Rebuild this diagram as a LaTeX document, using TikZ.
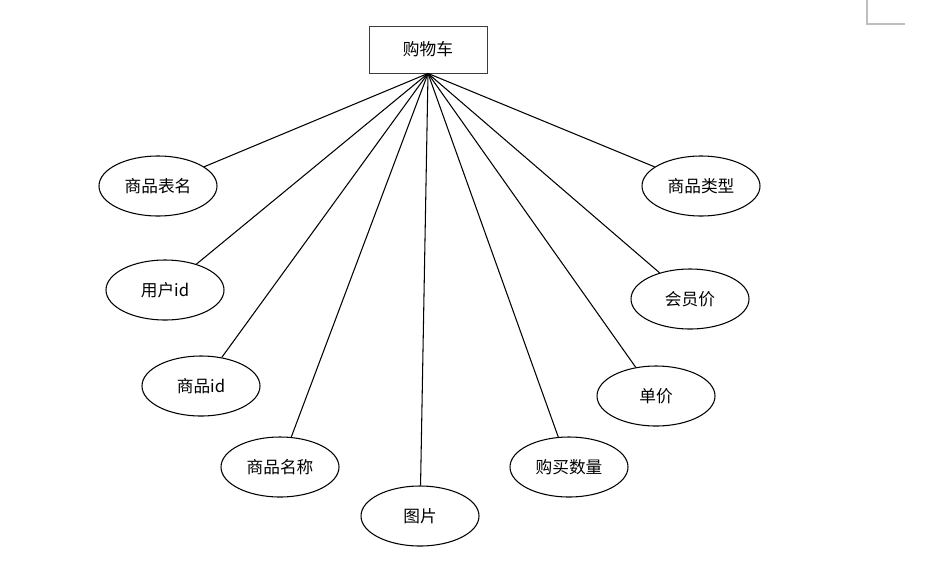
\documentclass[tikz,border=0pt]{standalone}
\usepackage{fontspec}
\newfontfamily\cjk{Noto Sans CJK SC}
\usepackage{xcolor}
\definecolor{cornergray}{RGB}{190,190,190}
\definecolor{boxgray}{RGB}{60,60,60}
\usetikzlibrary{shapes.geometric}

\tikzset{
  entitybox/.style={draw=boxgray, line width=0.5pt, minimum width=2.36cm, minimum height=0.94cm,
                    font=\cjk\fontsize{9.5}{11}\selectfont},
  attr/.style={draw, ellipse, line width=0.6pt, minimum width=2.36cm, minimum height=1.2cm,
               inner sep=0pt, font=\cjk\fontsize{9.5}{11}\selectfont},
  link/.style={line width=0.6pt}
}

\begin{document}
\begin{tikzpicture}
  \useasboundingbox (0,0) rectangle (18.66,-11.46);

  % page corner mark
  \draw[cornergray, line width=0.6pt] (17.34,0) -- (17.34,-0.48) -- (18.10,-0.48);

  % entity
  \node[entitybox] (cart) at (8.56,-0.99) {购物车};

  % attributes, left side
  \node[attr] (tablename) at (3.16,-3.72) {商品表名};
  \node[attr] (userid)    at (3.30,-5.80) {用户id};
  \node[attr] (goodsid)   at (4.02,-7.72) {商品id};
  \node[attr] (goodsname) at (5.60,-9.34) {商品名称};
  \node[attr] (picture)   at (8.40,-10.32) {图片};

  % attributes, right side
  \node[attr] (quantity)  at (11.38,-9.34) {购买数量};
  \node[attr] (price)     at (13.12,-7.92) {单价};
  \node[attr] (vipprice)  at (13.80,-5.98) {会员价};
  \node[attr] (goodstype) at (14.02,-3.72) {商品类型};

  % connectors
  \draw[link] (cart.south) -- (tablename);
  \draw[link] (cart.south) -- (userid);
  \draw[link] (cart.south) -- (goodsid);
  \draw[link] (cart.south) -- (goodsname);
  \draw[link] (cart.south) -- (picture);
  \draw[link] (cart.south) -- (quantity);
  \draw[link] (cart.south) -- (price);
  \draw[link] (cart.south) -- (vipprice);
  \draw[link] (cart.south) -- (goodstype);
\end{tikzpicture}
\end{document}
